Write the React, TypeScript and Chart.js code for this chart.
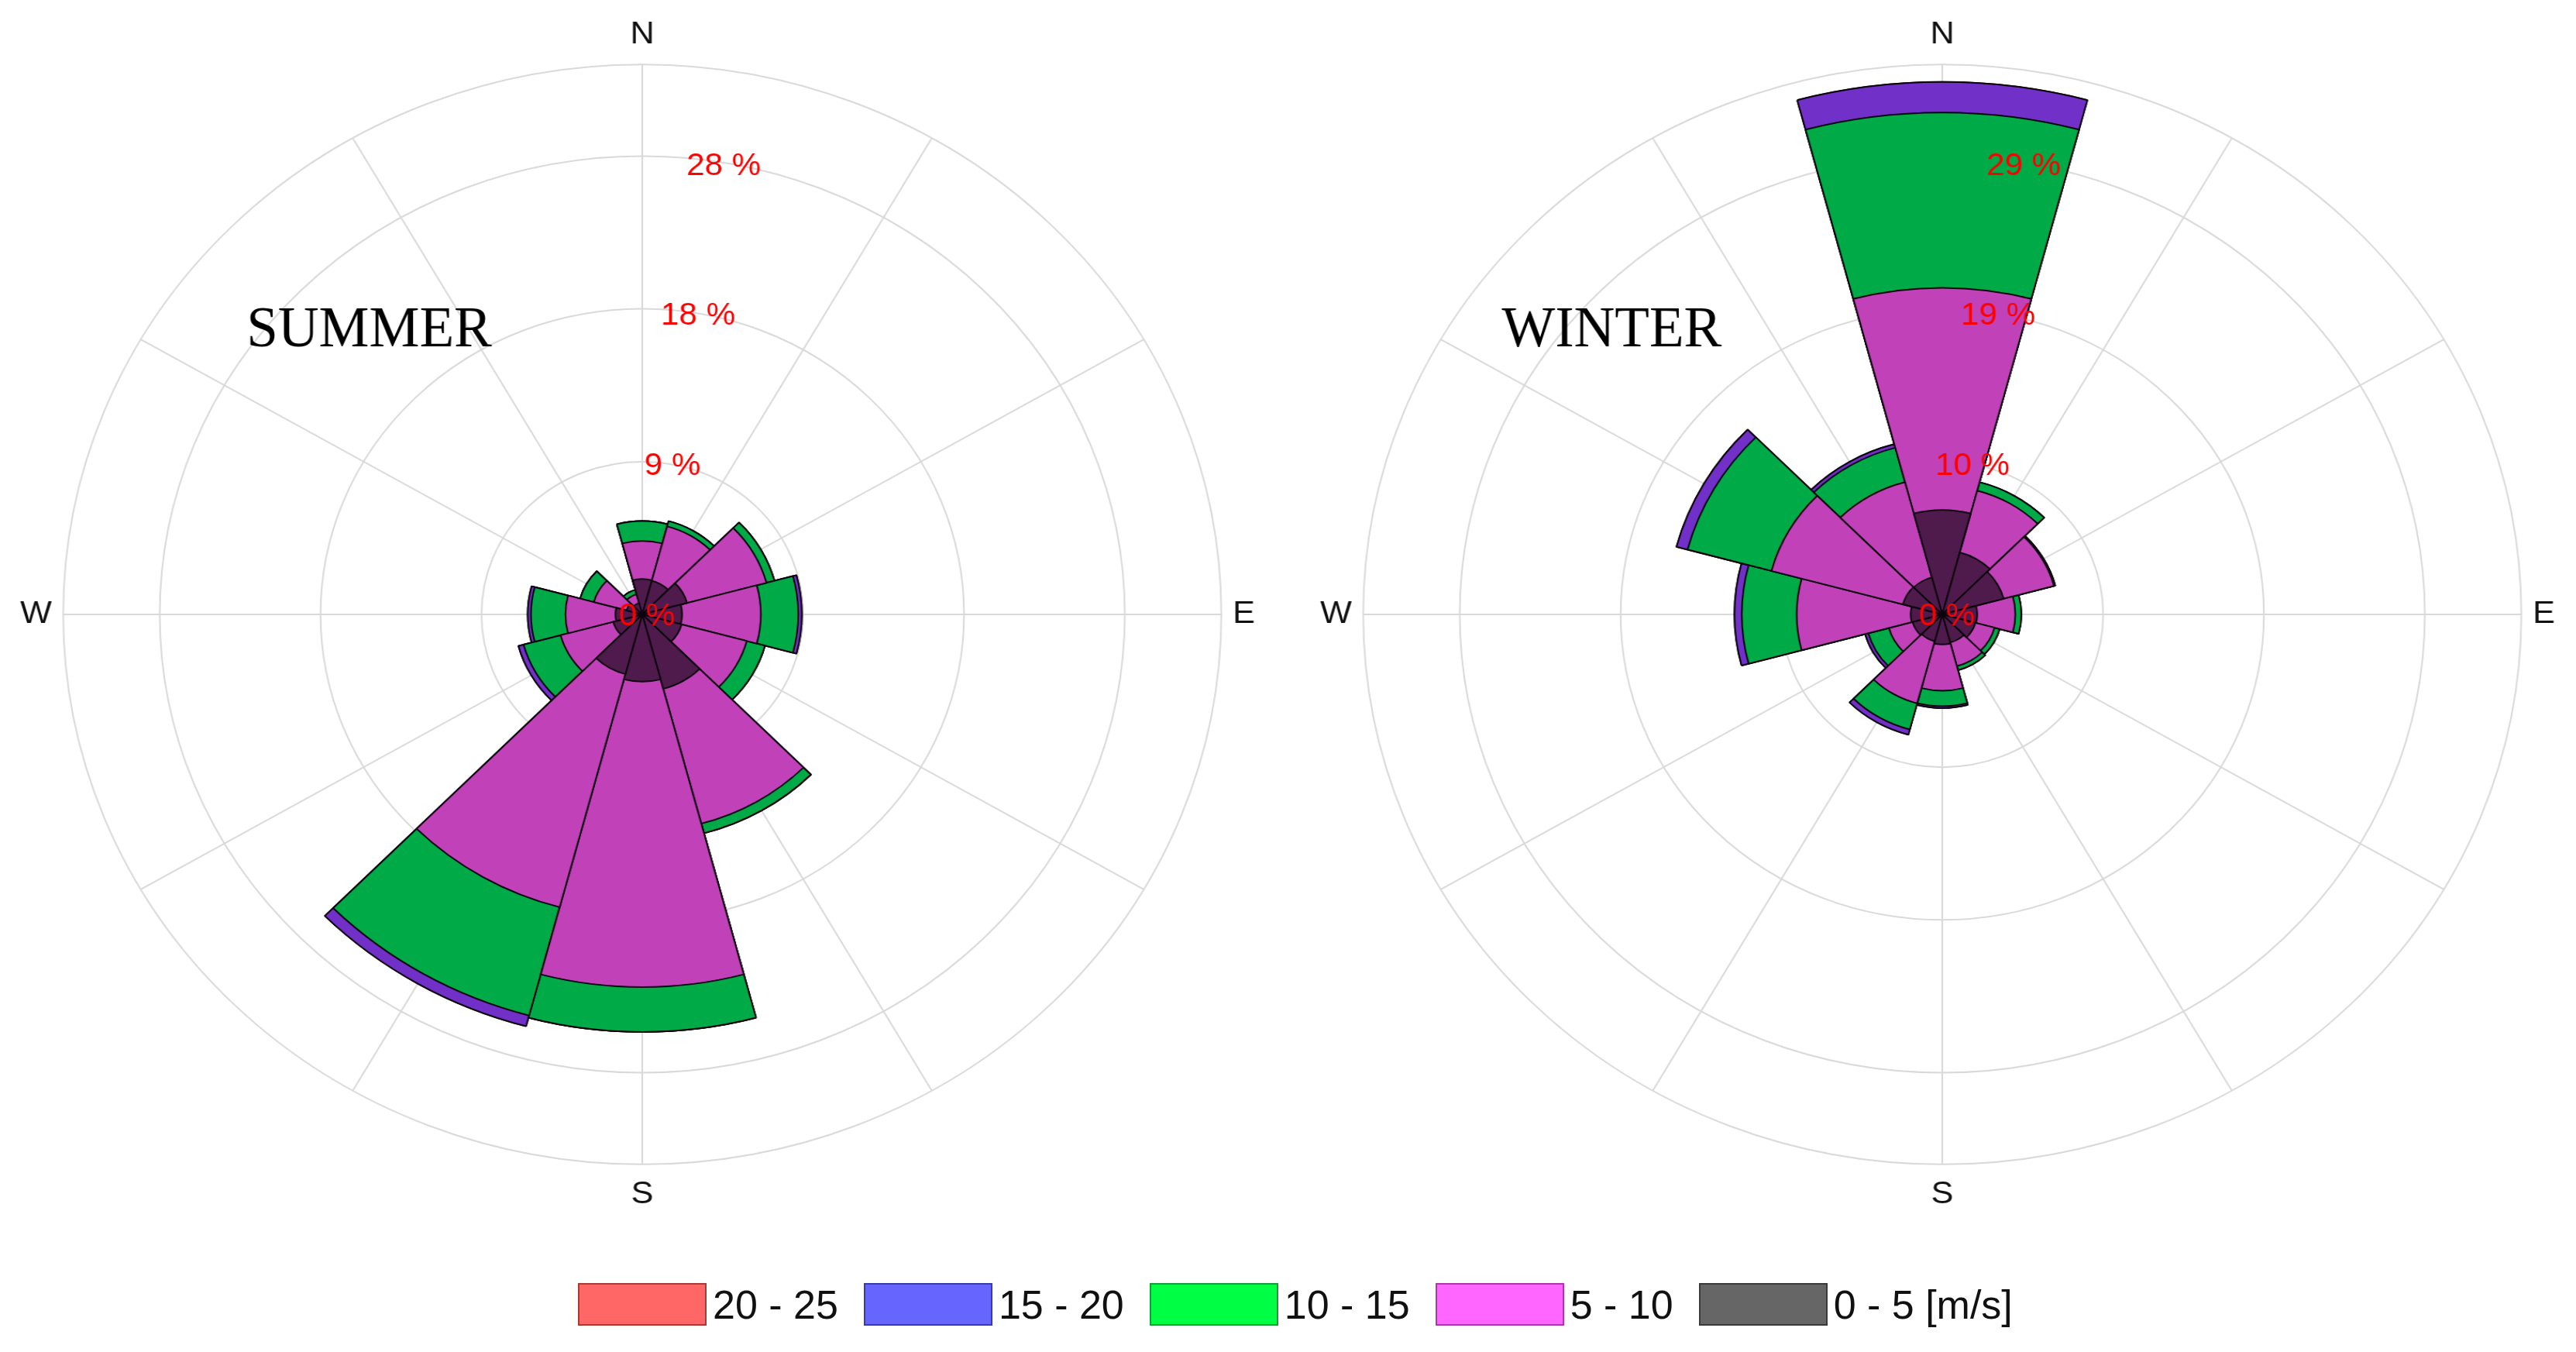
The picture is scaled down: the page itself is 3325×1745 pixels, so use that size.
import React, { useEffect, useRef } from 'react';
import { Chart, registerables } from 'chart.js';

Chart.register(...registerables);

// ---- data -------------------------------------------------------------
// 12 direction sectors of 30°, clockwise from North
const sectorDegrees = [0, 30, 60, 90, 120, 150, 180, 210, 240, 270, 300, 330];
const compassPoints = ['N', 'E', 'S', 'W'];
const speedBins = ['0 - 5', '5 - 10', '10 - 15', '15 - 20', '20 - 25'];
const legendLabels = ['20 - 25', '15 - 20', '10 - 15', '5 - 10', '0 - 5 [m/s]'];

// SUMMER frequencies (%) per speed bin
const summer0to5 = [2.16, 2.13, 2.69, 2.31, 2.36, 4.71, 4.11, 3.78, 1.75, 1.56, 0.94, 0.71];
const summer5to10 = [2.33, 3.44, 4.77, 4.57, 3.92, 8.52, 18.66, 14.74, 3.16, 2.9, 1.97, 0.56];
const summer10to15 = [1.21, 0.33, 0.48, 2.17, 1.09, 0.61, 2.74, 6.85, 2.22, 2.0, 0.82, 0.28];
const summer15to20 = [0, 0, 0, 0.21, 0, 0, 0, 0.68, 0.31, 0.19, 0, 0];
const summer20to25 = [0, 0, 0, 0, 0, 0, 0, 0, 0, 0, 0, 0];

// WINTER frequencies (%) per speed bin
const winter0to5 = [6.61, 4.06, 3.82, 2.1, 2.06, 1.84, 1.9, 1.76, 1.85, 1.9, 2.45, 2.42];
const winter5to10 = [14.06, 4.05, 3.13, 2.29, 1.19, 1.55, 2.93, 4.07, 1.47, 6.85, 8.18, 6.25];
const winter10to15 = [11.09, 0.55, 0.08, 0.36, 0.32, 0.26, 0.98, 1.71, 1.28, 3.3, 5.22, 2.25];
const winter15to20 = [1.93, 0, 0, 0, 0, 0, 0.12, 0.34, 0.2, 0.44, 0.69, 0.23];
const winter20to25 = [0, 0, 0, 0, 0, 0, 0, 0, 0, 0, 0, 0];

const summerTickValues = [0, 9.33, 18.67, 28];
const summerTickLabels = ['0 %', '9 %', '18 %', '28 %'];
const summerMax = 33.6;

const winterTickValues = [0, 9.67, 19.33, 29];
const winterTickLabels = ['0 %', '10 %', '19 %', '29 %'];
const winterMax = 34.8;

// ---- styles -----------------------------------------------------------
const binColors = ['#4e1b4c', '#c141b8', '#00aa46', '#7130c7', '#c03838'];
const legendColors = ['#ff6666', '#6666ff', '#00ff44', '#ff66ff', '#666666'];
const legendBorders = ['#a83a3a', '#3a3aa8', '#1a9a3a', '#a83aa8', '#3a3a3a'];
const STRETCH = 1.053;
const CANVAS_W = 1540;
const CANVAS_H = 1546;

function cumulative(bins: number[][]): number[][] {
  const out: number[][] = [];
  let run = sectorDegrees.map(() => 0);
  bins.forEach((b) => {
    run = run.map((v, i) => v + b[i]);
    out.push(run.slice());
  });
  return out;
}

// 24 slots every 15°, starting at -15°, so that sector wedges are centred
// on the spokes at 0°, 30°, 60° ...
const slotLabels = Array.from({ length: 24 }, (_, i) => {
  const deg = -15 + 15 * i;
  const k = [0, 90, 180, 270].indexOf(deg);
  return k >= 0 ? compassPoints[k] : '';
});

type RoseProps = {
  bins: number[][];
  tickValues: number[];
  tickLabels: string[];
  max: number;
  title: string;
  titleDx: number;
  titleDy: number;
  cx: number;
  cy: number;
};

function Rose(props: RoseProps) {
  const ref = useRef<HTMLCanvasElement | null>(null);
  useEffect(() => {
    const canvas = ref.current;
    if (!canvas) return;
    const cum = cumulative(props.bins);
    const overlay = {
      id: 'roseOverlay',
      afterDraw(chart: any) {
        const s = chart.scales.r;
        const ctx = chart.ctx;
        ctx.save();
        ctx.font = '40px "Liberation Sans", Arial, sans-serif';
        ctx.fillStyle = '#ff0000';
        ctx.textAlign = 'center';
        ctx.textBaseline = 'middle';
        props.tickValues.forEach((v, i) => {
          const d = s.getDistanceFromCenterForValue(v);
          ctx.fillText(props.tickLabels[i], s.xCenter + 5.7 + 0.159 * d, s.yCenter + 3 - 0.983 * d);
        });
        ctx.translate(s.xCenter + props.titleDx, s.yCenter + props.titleDy);
        ctx.scale(1 / STRETCH, 1);
        ctx.font = '73px "Liberation Serif", "Times New Roman", serif';
        ctx.fillStyle = '#000';
        ctx.textAlign = 'left';
        ctx.textBaseline = 'alphabetic';
        ctx.fillText(props.title, 0, 0);
        ctx.restore();
      },
    };
    const chart = new Chart(canvas, {
      type: 'polarArea',
      data: {
        labels: slotLabels,
        datasets: cum.map((vals, k) => ({
          label: speedBins[k],
          data: vals,
          backgroundColor: binColors[k],
          borderColor: '#0d050d',
          borderWidth: 2,
        })),
      },
      options: {
        responsive: false,
        animation: false,
        layout: { padding: 0 },
        plugins: { legend: { display: false }, tooltip: { enabled: false } },
        scales: {
          r: {
            min: 0,
            max: props.max,
            startAngle: -15,
            afterBuildTicks: (scale: any) => {
              scale.ticks = [...props.tickValues, props.max].map((v) => ({ value: v }));
            },
            ticks: { display: false },
            grid: { circular: true, color: '#d9d9d9', lineWidth: 2 },
            angleLines: {
              display: true,
              color: (c: any) => (c.index % 2 === 1 ? '#d9d9d9' : 'rgba(0,0,0,0)'),
              lineWidth: (c: any) => (c.index % 2 === 1 ? 2 : 0),
            },
            pointLabels: {
              display: true,
              padding: 14,
              color: '#111',
              font: { family: '"Liberation Sans", Arial, sans-serif', size: 41 },
            },
          },
        },
      } as any,
      plugins: [overlay as any],
    });
    const s: any = chart.scales.r;
    canvas.style.left = -s.xCenter + 'px';
    canvas.style.top = -s.yCenter + 'px';
    return () => chart.destroy();
  }, []);
  return (
    <div
      style={{
        position: 'absolute',
        left: props.cx,
        top: props.cy,
        width: 0,
        height: 0,
        transform: `scaleX(${STRETCH})`,
        transformOrigin: '0 0',
      }}
    >
      <canvas
        ref={ref}
        width={CANVAS_W}
        height={CANVAS_H}
        style={{ position: 'absolute', left: -CANVAS_W / 2, top: -CANVAS_H / 2, width: CANVAS_W, height: CANVAS_H }}
      />
    </div>
  );
}

export default function App() {
  return (
    <div
      style={{
        position: 'fixed',
        left: 0,
        top: 0,
        width: 3325,
        height: 1745,
        overflow: 'hidden',
        background: '#fff',
      }}
    >
      <Rose
        bins={[summer0to5, summer5to10, summer10to15, summer15to20, summer20to25]}
        tickValues={summerTickValues}
        tickLabels={summerTickLabels}
        max={summerMax}
        title="SUMMER"
        titleDx={-485}
        titleDy={-346}
        cx={829}
        cy={793}
      />
      <Rose
        bins={[winter0to5, winter5to10, winter10to15, winter15to20, winter20to25]}
        tickValues={winterTickValues}
        tickLabels={winterTickLabels}
        max={winterMax}
        title="WINTER"
        titleDx={-540}
        titleDy={-346}
        cx={2507}
        cy={793}
      />
      <div
        style={{
          position: 'absolute',
          left: 746,
          top: 1656,
          height: 55,
          display: 'flex',
          alignItems: 'center',
          fontFamily: '"Liberation Sans", Arial, sans-serif',
          fontSize: 52,
          lineHeight: 1,
          color: '#111',
        }}
      >
        {legendLabels.map((lab, i) => (
          <div key={lab} style={{ display: 'flex', alignItems: 'center', marginRight: 33 }}>
            <div
              style={{
                width: 162,
                height: 51,
                background: legendColors[i],
                border: `2px solid ${legendBorders[i]}`,
              }}
            />
            <span style={{ marginLeft: 8, whiteSpace: 'nowrap' }}>{lab}</span>
          </div>
        ))}
      </div>
    </div>
  );
}
